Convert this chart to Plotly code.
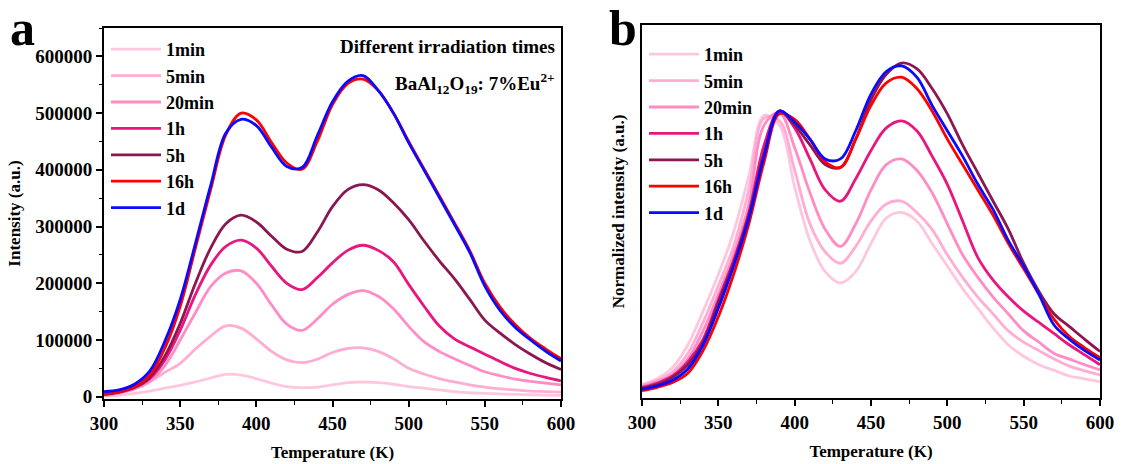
import plotly.graph_objects as go

temperature = list(range(300, 601, 10))
series_names = ["1min", "5min", "20min", "1h", "5h", "16h", "1d"]
series_colors = ["#FFC6DF", "#FFADD3", "#FF8CC4", "#E8167F", "#8C1650", "#FF0000", "#0A0AFF"]

# Panel a: intensity (a.u.), read in units of 1000
int_1min = [1, 3, 6, 10, 15, 20, 26, 33, 39.5, 38, 32, 24, 18, 16, 17, 21, 25, 26, 25, 22, 18, 15, 12, 9, 7, 6, 5, 4, 3.5, 3, 2.5]
int_5min = [2, 6, 14, 26, 43, 59, 84, 107, 125, 121, 102, 80, 65, 60, 66, 78, 85, 86, 80, 67, 50, 40, 32, 26, 21, 17, 14, 12, 10, 9, 8]
int_20min = [3, 7, 14, 27, 55, 100, 148, 194, 218, 222, 200, 162, 128, 117, 137, 163, 180, 187, 177, 155, 124, 97, 80, 67, 55, 44, 37, 31, 27, 24, 21]
int_1h = [4, 8, 16, 32, 65, 117, 180, 232, 265, 276, 262, 230, 200, 189, 210, 236, 258, 267, 258, 238, 198, 160, 125, 102, 88, 75, 62, 50, 41, 34, 28]
int_5h = [4, 8, 17, 34, 72, 129, 200, 262, 305, 320, 308, 283, 260, 256, 290, 335, 365, 374, 365, 342, 312, 275, 240, 208, 172, 135, 112, 92, 75, 60, 48]
int_16h = [6, 9, 18, 38, 86, 159, 262, 365, 462, 500, 488, 448, 412, 401, 450, 515, 552, 560, 540, 500, 450, 402, 355, 307, 258, 200, 158, 127, 103, 84, 67]
int_1d = [9, 12, 22, 45, 98, 171, 270, 372, 465, 489, 478, 440, 406, 404, 460, 520, 556, 566, 540, 500, 448, 400, 352, 304, 255, 195, 152, 122, 100, 80, 63]

# Panel b: normalized intensity
norm_1min = [0.03, 0.05, 0.09, 0.17, 0.29, 0.42, 0.57, 0.77, 0.985, 0.95, 0.73, 0.54, 0.43, 0.39, 0.43, 0.53, 0.62, 0.64, 0.61, 0.53, 0.45, 0.37, 0.30, 0.23, 0.17, 0.13, 0.10, 0.08, 0.06, 0.05, 0.04]
norm_5min = [0.028, 0.045, 0.075, 0.14, 0.25, 0.38, 0.52, 0.72, 0.975, 0.965, 0.79, 0.60, 0.50, 0.46, 0.52, 0.61, 0.67, 0.68, 0.64, 0.58, 0.49, 0.41, 0.34, 0.28, 0.22, 0.18, 0.15, 0.12, 0.095, 0.078, 0.064]
norm_20min = [0.022, 0.04, 0.065, 0.12, 0.22, 0.35, 0.49, 0.67, 0.95, 0.995, 0.87, 0.71, 0.58, 0.52, 0.60, 0.72, 0.81, 0.83, 0.79, 0.71, 0.60, 0.49, 0.41, 0.34, 0.28, 0.22, 0.18, 0.14, 0.12, 0.10, 0.082]
norm_1h = [0.019, 0.035, 0.06, 0.11, 0.19, 0.33, 0.47, 0.64, 0.88, 1.0, 0.94, 0.83, 0.72, 0.68, 0.76, 0.86, 0.94, 0.965, 0.93, 0.84, 0.74, 0.61, 0.48, 0.40, 0.34, 0.29, 0.25, 0.21, 0.17, 0.135, 0.10]
norm_5h = [0.017, 0.03, 0.055, 0.10, 0.18, 0.32, 0.46, 0.63, 0.85, 1.0, 0.95, 0.88, 0.81, 0.80, 0.90, 1.04, 1.13, 1.17, 1.15, 1.08, 0.99, 0.88, 0.78, 0.68, 0.58, 0.46, 0.36, 0.28, 0.235, 0.19, 0.147]
norm_16h = [0.008, 0.02, 0.037, 0.07, 0.15, 0.27, 0.42, 0.60, 0.82, 0.99, 0.97, 0.90, 0.82, 0.80, 0.90, 1.02, 1.10, 1.12, 1.08, 1.00, 0.90, 0.81, 0.72, 0.63, 0.53, 0.44, 0.35, 0.26, 0.20, 0.16, 0.125]
norm_1d = [0.013, 0.025, 0.045, 0.085, 0.17, 0.30, 0.45, 0.62, 0.84, 1.0, 0.96, 0.90, 0.83, 0.83, 0.93, 1.06, 1.14, 1.16, 1.12, 1.02, 0.93, 0.84, 0.74, 0.65, 0.54, 0.45, 0.35, 0.24, 0.19, 0.15, 0.117]

intensity = [int_1min, int_5min, int_20min, int_1h, int_5h, int_16h, int_1d]
normalized = [norm_1min, norm_5min, norm_20min, norm_1h, norm_5h, norm_16h, norm_1d]

FONT = "Liberation Serif"
W, H = 1123, 464

fig = go.Figure()
for name, color, vals in zip(series_names, series_colors, intensity):
    fig.add_trace(go.Scatter(
        x=temperature, y=[v * 1000 for v in vals], mode="lines", name=name,
        line=dict(color=color, width=2.8, shape="spline", smoothing=1.0),
        xaxis="x", yaxis="y", legend="legend"))
for name, color, vals in zip(series_names, series_colors, normalized):
    fig.add_trace(go.Scatter(
        x=temperature, y=vals, mode="lines", name=name,
        line=dict(color=color, width=2.8, shape="spline", smoothing=1.0),
        xaxis="x2", yaxis="y2", legend="legend2"))

tickfont = dict(family=FONT, size=19, color="black", weight="bold")
xtitlefont = dict(family=FONT, size=17, color="black", weight="bold")
ytitlefont = dict(family=FONT, size=17, color="black", weight="bold")
legfont = dict(family=FONT, size=18, color="black", weight="bold")

common_x = dict(range=[300, 600], dtick=50, tick0=300, ticks="outside", ticklen=6, tickwidth=1.6,
                tickcolor="black", showline=True, linewidth=2, linecolor="black", mirror=True,
                showgrid=False, zeroline=False, tickfont=tickfont, automargin=False,
                minor=dict(ticks="outside", ticklen=3.5, tickwidth=1.4, tickcolor="black", dtick=25, showgrid=False),
                title=dict(text="Temperature (K)", font=xtitlefont, standoff=13))

fig.update_layout(
    width=W, height=H, margin=dict(l=0, r=0, t=0, b=0, autoexpand=False),
    paper_bgcolor="white", plot_bgcolor="white",
    xaxis=dict(domain=[104 / W, 561 / W], anchor="y", **common_x),
    xaxis2=dict(domain=[642 / W, 1100 / W], anchor="y2", **common_x),
    yaxis=dict(domain=[(H - 399) / H, (H - 28) / H], anchor="x", range=[-4000, 650000],
               dtick=100000, tick0=0, ticks="outside", ticklen=6, tickwidth=1.6, tickcolor="black",
               showline=True, linewidth=2, linecolor="black", mirror=True, showgrid=False,
               zeroline=False, tickfont=tickfont, tickformat="d", automargin=False,
               minor=dict(ticks="outside", ticklen=3.5, tickwidth=1.4, tickcolor="black", dtick=50000, showgrid=False),
               title=dict(text="Intensity (a.u.)", font=ytitlefont, standoff=10)),
    yaxis2=dict(domain=[(H - 398) / H, (H - 25) / H], anchor="x2", range=[-0.018, 1.305],
                ticks="", showticklabels=False, showline=True, linewidth=2, linecolor="black",
                mirror=True, showgrid=False, zeroline=False, automargin=False,
                title=dict(text="Normalized intensity (a.u.)", font=ytitlefont, standoff=11)),
    legend=dict(x=106 / W, y=(H - 31) / H, xanchor="left", yanchor="top", bgcolor="rgba(0,0,0,0)",
                font=legfont, itemwidth=50, tracegroupgap=0),
    legend2=dict(x=644 / W, y=(H - 36) / H, xanchor="left", yanchor="top", bgcolor="rgba(0,0,0,0)",
                 font=legfont, itemwidth=50, tracegroupgap=0),
    showlegend=True,
)

fig.add_annotation(text="a", x=8 / W, y=(H - 28) / H, xref="paper", yref="paper", xanchor="left", yanchor="middle",
                   showarrow=False, font=dict(family=FONT, size=50, color="black", weight="bold"))
fig.add_annotation(text="b", x=607 / W, y=(H - 28) / H, xref="paper", yref="paper", xanchor="left", yanchor="middle",
                   showarrow=False, font=dict(family=FONT, size=50, color="black", weight="bold"))
fig.add_annotation(text="Different irradiation times", x=557 / W, y=(H - 46) / H, xref="paper", yref="paper",
                   xanchor="right", yanchor="middle", showarrow=False,
                   font=dict(family=FONT, size=19, color="black", weight="bold"))
fig.add_annotation(text="BaAl<sub>12</sub>O<sub>19</sub>: 7%Eu<sup>2+</sup>", x=557 / W, y=(H - 84) / H,
                   xref="paper", yref="paper", xanchor="right", yanchor="middle", showarrow=False,
                   font=dict(family=FONT, size=19, color="black", weight="bold"))

fig.write_html("out.html")
